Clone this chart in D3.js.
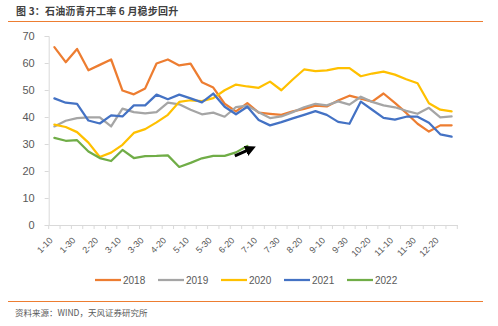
<!DOCTYPE html>
<html><head><meta charset="utf-8">
<script src="https://cdn.jsdelivr.net/npm/d3@7"></script>
<style>
html,body{margin:0;padding:0;background:#fff;}
svg{display:block;}
</style></head>
<body>
<svg id="c" width="498" height="326"></svg>
<script>
const categories = ["1-10","1-20","1-30","2-10","2-20","2-28","3-10","3-20","3-30","4-10","4-20","4-30","5-10","5-20","5-30","6-10","6-20","6-30","7-10","7-20","7-30","8-10","8-20","8-30","9-10","9-20","9-30","10-10","10-20","10-30","11-10","11-20","11-30","12-10","12-20","12-30"];
const s2018 = [65.9,60.3,65.2,57.3,59.3,61.3,49.8,48.4,50.6,59.8,61.3,59.1,59.8,52.9,50.9,44.9,42.1,45.1,41.6,41.2,40.8,42.1,43.0,44.2,43.9,46.1,47.9,46.8,45.7,48.7,45.2,41.5,37.5,34.6,36.9,36.9];
const s2019 = [36.5,38.6,39.6,39.9,39.9,36.5,43.1,41.8,41.3,41.8,45.3,44.7,42.7,41.0,41.6,40.1,43.7,44.2,41.8,39.6,40.2,41.8,43.6,44.9,44.3,45.8,44.6,47.5,45.6,44.3,43.6,42.3,41.2,43.4,39.9,40.2];
const s2020 = [37.2,36.3,34.4,30.5,25.2,26.8,29.7,34.1,35.5,38.0,40.8,45.6,46.2,45.9,47.0,49.9,52.0,51.3,50.8,53.1,49.9,53.9,57.6,57.0,57.3,58.1,58.1,55.1,56.1,56.8,55.7,54.0,52.5,45.1,42.7,42.1];
const s2021 = [46.9,45.3,44.9,38.7,37.6,40.6,40.2,44.3,44.3,48.3,46.6,48.3,46.9,45.4,48.7,43.8,41.0,43.8,38.9,36.9,38.1,39.5,40.8,42.2,40.8,38.2,37.5,45.7,42.7,39.7,39.0,40.1,40.1,37.9,33.6,32.7];
const s2022 = [32.3,31.2,31.4,27.2,24.8,23.7,27.8,24.8,25.5,25.6,25.8,21.5,23.0,24.7,25.6,25.6,26.9,29.3];
const seriesNames = ["2018","2019","2020","2021","2022"];
const seriesColors = ["#ED7D31","#A5A5A5","#FFC000","#4472C4","#70AD47"];
const yTicks = [0,10,20,30,40,50,60,70];
const title = "图 3：石油沥青开工率 6 月稳步回升";
const source = "资料来源：WIND，天风证券研究所";

const seriesValues = [s2018,s2019,s2020,s2021,s2022];
const svg = d3.select("#c");
const cjk = "'Noto Sans CJK SC','Noto Sans',sans-serif";
const lat = "'Liberation Sans','Noto Sans',sans-serif";

const x = d3.scaleBand().domain(categories).range([48.7, 457.3]).paddingInner(0).paddingOuter(0);
const y = d3.scaleLinear().domain([0,70]).range([225, 36]);
const cx = i => x(categories[i]) + x.bandwidth()/2;

// title and rules
svg.append("text").attr("x",16).attr("y",15).attr("font-family",cjk).attr("font-size",10).attr("font-weight","bold").attr("fill","#404040").attr("letter-spacing",0.2).text(title);
svg.append("line").attr("x1",8).attr("x2",483).attr("y1",21.5).attr("y2",21.5).attr("stroke","#ED7D31").attr("stroke-width",1);
svg.append("line").attr("x1",8).attr("x2",483).attr("y1",301.5).attr("y2",301.5).attr("stroke","#ED7D31").attr("stroke-width",1);
svg.append("text").attr("x",15).attr("y",316).attr("font-family",cjk).attr("font-size",8.5).attr("fill","#595959").text(source);

// y axis
const yAxis = d3.axisLeft(y).tickValues(yTicks).tickSize(4).tickPadding(10);
const gy = svg.append("g").attr("transform","translate(48.7,0)").call(yAxis);
gy.selectAll("path,line").attr("stroke","#d9d9d9");
gy.selectAll("text").attr("font-family",lat).attr("font-size",11).attr("fill","#595959");

// x axis
const xAxis = d3.axisBottom(x).tickSize(0).tickFormat((d,i)=> i%2===0 ? d : "");
const gx = svg.append("g").attr("transform","translate(0,225)").call(xAxis);
gx.select("path").attr("stroke","#d9d9d9");
gx.selectAll(".tick text").attr("font-family",lat).attr("font-size",9).attr("fill","#595959")
  .attr("text-anchor","end").attr("dy",0).attr("y",0)
  .attr("transform","translate(-1,16) rotate(-45)");
// tick marks between categories
gx.selectAll(".bt").data(d3.range(categories.length+1)).enter().append("line")
  .attr("x1",i=>x.range()[0]+i*x.bandwidth()).attr("x2",i=>x.range()[0]+i*x.bandwidth())
  .attr("y1",0).attr("y2",4).attr("stroke","#d9d9d9");

// lines
const line = d3.line().x((d,i)=>cx(i)).y(d=>y(d)).curve(d3.curveLinear);
seriesValues.forEach((vals,k)=>{
  svg.append("path").datum(vals).attr("d",line).attr("fill","none")
    .attr("stroke",seriesColors[k]).attr("stroke-width",2.25).attr("stroke-linejoin","round").attr("stroke-linecap","round");
});

// arrow annotation
const defs = svg.append("defs");
defs.append("marker").attr("id","ah").attr("viewBox","0 0 10 10").attr("refX",6).attr("refY",5)
  .attr("markerWidth",3.6).attr("markerHeight",3.6).attr("orient","auto")
  .append("path").attr("d","M0,0 L10,5 L0,10 z").attr("fill","#000");
const arrowFrom = [15.9, 25.6], arrowTo = [17.4, 28.4];
const ax = v => x.range()[0] + (v+0.5)*x.bandwidth();
svg.append("line").attr("x1",ax(arrowFrom[0])).attr("y1",y(arrowFrom[1]))
  .attr("x2",ax(arrowTo[0])).attr("y2",y(arrowTo[1]))
  .attr("stroke","#000").attr("stroke-width",3).attr("marker-end","url(#ah)");

// legend
const lg = svg.append("g");
seriesNames.forEach((n,k)=>{
  const lx = 95 + k*63;
  lg.append("line").attr("x1",lx).attr("x2",lx+26).attr("y1",280).attr("y2",280).attr("stroke",seriesColors[k]).attr("stroke-width",2.25);
  lg.append("text").attr("x",lx+28).attr("y",283.5).attr("font-family",lat).attr("font-size",10).attr("fill","#595959").text(n);
});
</script>
</body></html>
